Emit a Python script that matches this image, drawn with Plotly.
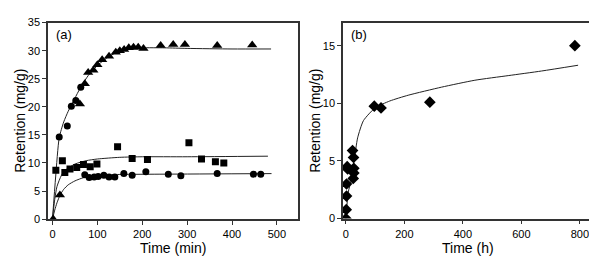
import plotly.graph_objects as go

# ---- Panel (a) data ----
tri_t = [1.5, 16.5, 61, 72, 79.5, 91, 100, 110.7, 126, 141, 150, 159.6, 170, 180.5, 191, 202.7, 241, 269, 295, 367, 445]
tri_q = [0, 4.3, 20.5, 24.1, 26.1, 26.5, 27.5, 28.4, 29.0, 29.7, 30.0, 30.2, 30.5, 30.6, 30.6, 30.4, 30.9, 31.1, 31.1, 30.9, 31.0]

circ_up_t = [15, 33, 42, 52, 63]
circ_up_q = [14.6, 16.6, 20.1, 21.1, 23.5]

sq_t = [7.5, 22, 27.5, 39, 54, 69, 84, 99, 145, 177.5, 211.6, 304, 332, 363, 381.7]
sq_q = [8.7, 10.4, 8.3, 8.9, 9.2, 9.7, 9.3, 9.8, 12.9, 10.8, 10.6, 13.6, 10.7, 10.2, 10.0]

circ_lo_t = [72, 81.7, 92.9, 101.7, 114.4, 126, 138.9, 159, 177.5, 208, 258, 286, 367, 447.7, 464]
circ_lo_q = [7.9, 7.4, 7.5, 7.6, 7.8, 7.5, 7.5, 8.1, 7.8, 8.45, 8.0, 7.7, 8.1, 8.0, 8.0]

fit_top_t = [0, 7, 15, 25, 35, 42, 63, 80, 102, 125, 146, 175, 200, 250, 300, 400, 487]
fit_top_q = [0, 7.5, 14.5, 17.3, 19.2, 20.3, 23.5, 25.6, 27.5, 28.9, 29.8, 30.3, 30.5, 30.5, 30.4, 30.3, 30.3]

fit_mid_t = [0, 5, 10, 20, 30, 50, 75, 100, 150, 200, 300, 480]
fit_mid_q = [0, 3.5, 5.8, 7.8, 8.8, 9.8, 10.4, 10.7, 11.0, 11.1, 11.1, 11.2]

fit_low_t = [0, 5, 10, 17, 25, 35, 50, 70, 100, 150, 250, 488]
fit_low_q = [0, 1.6, 2.9, 4.3, 5.3, 6.1, 6.8, 7.4, 7.8, 7.95, 8.0, 8.1]

# ---- Panel (b) data ----
dia_t = [0, 1, 2, 2, 4.4, 6, 22.6, 26, 27, 27, 25, 97, 120, 287, 783]
dia_q = [0, 0.77, 1.95, 3.0, 4.5, 4.3, 5.9, 5.3, 4.36, 3.95, 3.48, 9.75, 9.6, 10.1, 15.0]

fit_b_t = [0, 8, 19, 28, 40, 60, 100, 150, 213, 327, 441, 555, 669, 794]
fit_b_q = [0, 2.3, 3.4, 5.0, 7.0, 8.5, 9.6, 10.2, 10.7, 11.4, 12.0, 12.4, 12.8, 13.3]

W, H = 597, 260
FONT = "Liberation Sans, Arial, sans-serif"

fig = go.Figure()

def line(x, y, xa, ya):
    fig.add_trace(go.Scatter(x=x, y=y, mode="lines", line=dict(color="#222", width=1, shape="spline", smoothing=0.6),
                             xaxis=xa, yaxis=ya, showlegend=False, hoverinfo="skip"))

def pts(x, y, sym, size, xa, ya):
    fig.add_trace(go.Scatter(x=x, y=y, mode="markers", marker=dict(symbol=sym, size=size, color="black", line=dict(width=0)),
                             xaxis=xa, yaxis=ya, showlegend=False))

line(fit_top_t, fit_top_q, "x", "y")
line(fit_mid_t, fit_mid_q, "x", "y")
line(fit_low_t, fit_low_q, "x", "y")
pts(tri_t, tri_q, "triangle-up", 9, "x", "y")
pts(circ_up_t, circ_up_q, "circle", 7, "x", "y")
pts(sq_t, sq_q, "square", 7, "x", "y")
pts(circ_lo_t, circ_lo_q, "circle", 7, "x", "y")

line(fit_b_t, fit_b_q, "x2", "y2")
pts(dia_t, dia_q, "diamond", 9, "x2", "y2")

def px(v):
    return v / W

def py(v):
    return (H - v) / H

axis_common = dict(showline=True, linecolor="#333", linewidth=1.5, mirror=True, ticks="outside",
                   ticklen=4, tickcolor="#333", showgrid=False, zeroline=False,
                   tickfont=dict(family=FONT, size=11, color="black"))

fig.update_layout(
    width=W, height=H, margin=dict(l=0, r=0, t=0, b=0),
    plot_bgcolor="white", paper_bgcolor="white",
    xaxis=dict(domain=[px(40), px(290)], range=[-10, 547], tickvals=[0, 100, 200, 300, 400, 500], anchor="y", **axis_common),
    yaxis=dict(domain=[py(215), py(9)], range=[0, 35], tickvals=[0, 5, 10, 15, 20, 25, 30, 35], anchor="x", **axis_common),
    xaxis2=dict(domain=[px(335), px(585)], range=[-10, 845], tickvals=[0, 200, 400, 600, 800], anchor="y2", **axis_common),
    yaxis2=dict(domain=[py(214.5), py(9)], range=[0, 17], tickvals=[0, 5, 10, 15], anchor="x2", **axis_common),
    font=dict(family=FONT, color="black"),
)

ann = [
    dict(text="(a)", x=px(46), y=py(22), xanchor="left", yanchor="middle", font=dict(size=13)),
    dict(text="(b)", x=px(341), y=py(22), xanchor="left", yanchor="middle", font=dict(size=13)),
    dict(text="Retention (mg/g)", x=px(12), y=py(112), textangle=-90, xanchor="center", yanchor="middle", font=dict(size=14)),
    dict(text="Retention (mg/g)", x=px(307), y=py(112), textangle=-90, xanchor="center", yanchor="middle", font=dict(size=14)),
    dict(text="Time (min)", x=px(165), y=py(245), xanchor="center", yanchor="middle", font=dict(size=14)),
    dict(text="Time (h)", x=px(460), y=py(245), xanchor="center", yanchor="middle", font=dict(size=14)),
]
for a in ann:
    a.update(xref="paper", yref="paper", showarrow=False)
    a["font"]["family"] = FONT
    a["font"]["color"] = "black"
fig.update_layout(annotations=ann)

fig.write_html("out.html")
